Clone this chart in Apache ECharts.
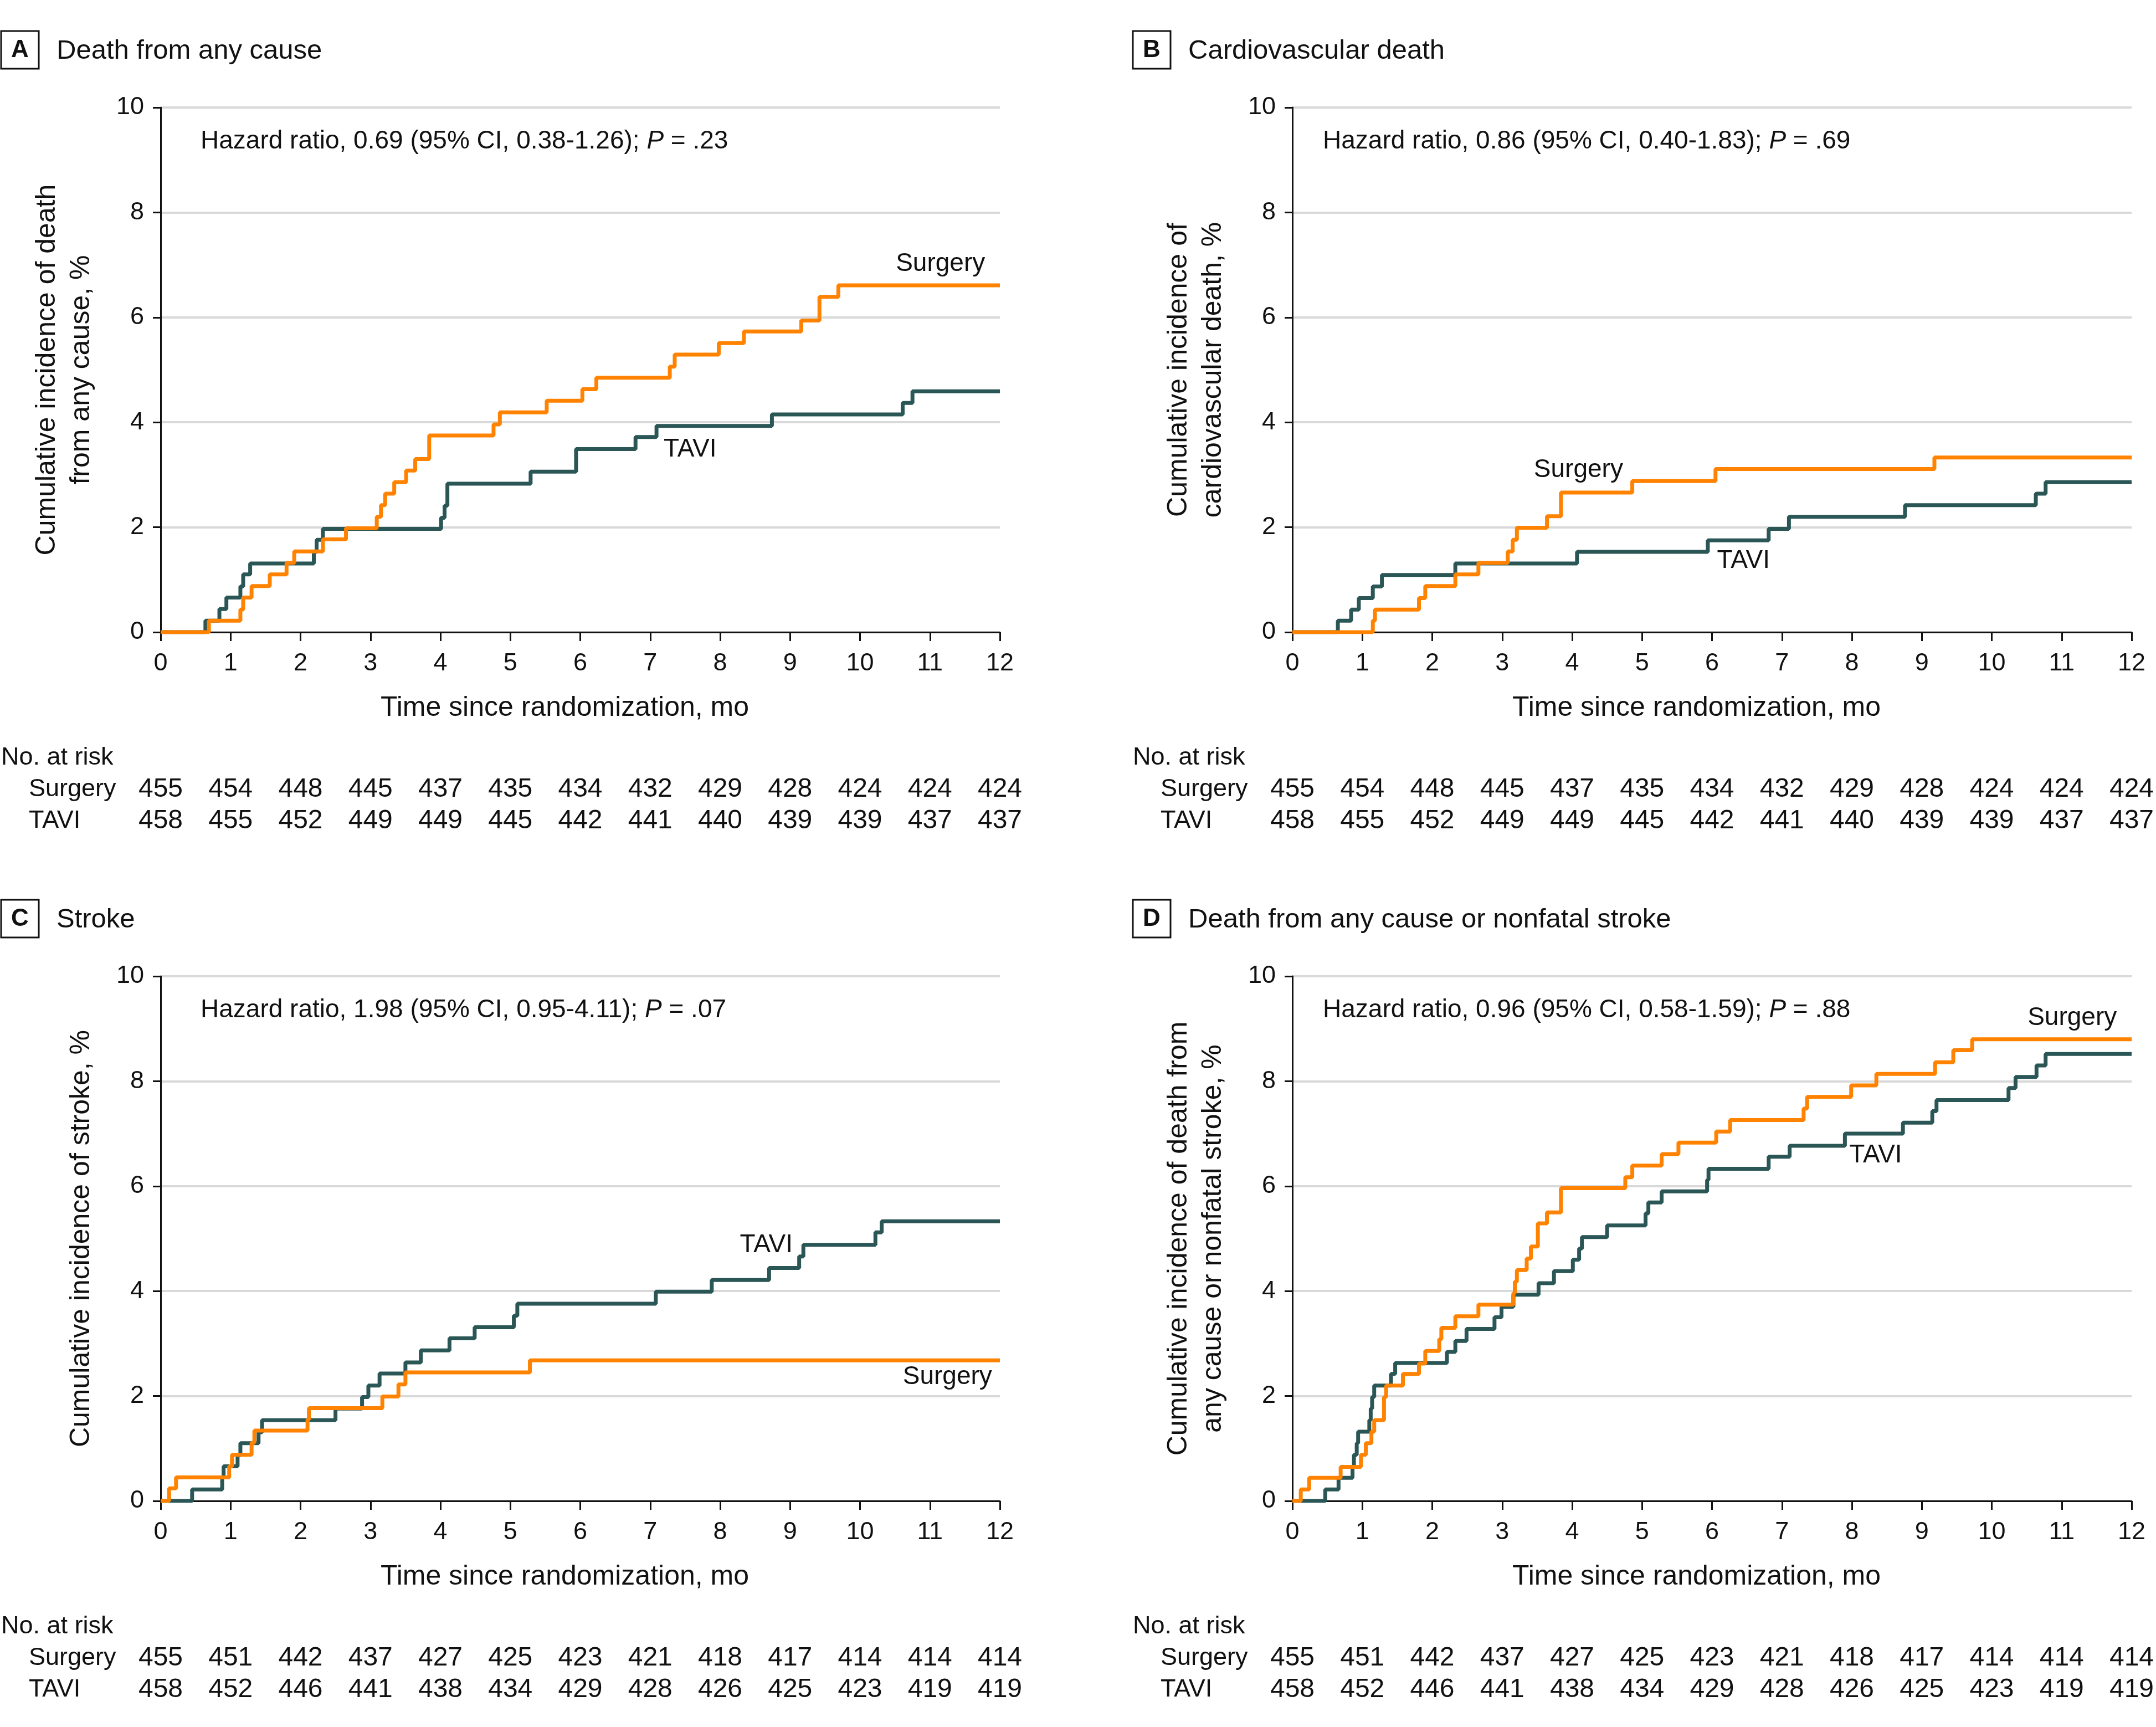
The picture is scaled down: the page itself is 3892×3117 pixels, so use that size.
<!DOCTYPE html>
<html>
<head>
<meta charset="utf-8">
<script src="https://cdn.jsdelivr.net/npm/echarts@6/dist/echarts.min.js"></script>
<style>
html, body { margin: 0; padding: 0; background: #fff; }
#main { width: 3892px; height: 3117px; }
</style>
</head>
<body>
<div id="main"></div>
<script>
// months since randomization / cumulative incidence (%)
const aSurgT = [0, 0.69, 1.14, 1.18, 1.30, 1.56, 1.80, 1.91, 2.32, 2.65, 3.09, 3.15, 3.21, 3.34, 3.51, 3.64, 3.84, 4.76, 4.85, 5.52, 6.03, 6.23, 7.28, 7.35, 7.98, 8.34, 9.16, 9.42, 9.69, 12]
const aSurgV = [0, 0.22, 0.43, 0.66, 0.88, 1.10, 1.32, 1.54, 1.77, 1.98, 2.20, 2.42, 2.64, 2.86, 3.08, 3.30, 3.75, 3.96, 4.19, 4.41, 4.63, 4.85, 5.06, 5.29, 5.51, 5.73, 5.94, 6.39, 6.61, 6.61]
const aTaviT = [0, 0.64, 0.84, 0.94, 1.14, 1.18, 1.28, 2.19, 2.23, 2.32, 4.01, 4.06, 4.10, 5.29, 5.94, 6.79, 7.09, 8.74, 10.61, 10.75, 12]
const aTaviV = [0, 0.22, 0.44, 0.66, 0.87, 1.10, 1.31, 1.53, 1.76, 1.97, 2.18, 2.41, 2.83, 3.06, 3.49, 3.72, 3.93, 4.15, 4.37, 4.59, 4.59]

const bSurgT = [0, 1.15, 1.18, 1.81, 1.90, 2.33, 2.66, 3.08, 3.15, 3.21, 3.64, 3.84, 4.86, 6.05, 9.18, 12]
const bSurgV = [0, 0.22, 0.43, 0.65, 0.88, 1.10, 1.32, 1.54, 1.76, 1.99, 2.21, 2.66, 2.88, 3.11, 3.33, 3.33]
const bTaviT = [0, 0.65, 0.84, 0.95, 1.15, 1.28, 2.33, 4.07, 5.94, 6.81, 7.10, 8.76, 10.63, 10.77, 12]
const bTaviV = [0, 0.22, 0.43, 0.65, 0.87, 1.09, 1.31, 1.53, 1.75, 1.97, 2.20, 2.42, 2.64, 2.86, 2.86]

const cSurgT = [0, 0.12, 0.22, 0.98, 1.02, 1.30, 1.34, 2.10, 2.12, 3.17, 3.40, 3.50, 5.28, 12]
const cSurgV = [0, 0.24, 0.45, 0.66, 0.88, 1.11, 1.34, 1.55, 1.77, 1.99, 2.22, 2.45, 2.68, 2.68]
const cTaviT = [0, 0.45, 0.88, 0.90, 1.10, 1.14, 1.40, 1.45, 2.50, 2.88, 2.97, 3.13, 3.50, 3.72, 4.13, 4.49, 5.05, 5.10, 7.08, 7.88, 8.70, 9.13, 9.19, 10.22, 10.31, 12]
const cTaviV = [0, 0.22, 0.44, 0.66, 0.87, 1.10, 1.31, 1.54, 1.76, 1.98, 2.20, 2.43, 2.64, 2.87, 3.10, 3.31, 3.53, 3.76, 3.99, 4.21, 4.44, 4.66, 4.88, 5.12, 5.33, 5.33]

const dSurgT = [0, 0.12, 0.24, 0.69, 0.98, 1.05, 1.13, 1.17, 1.31, 1.34, 1.58, 1.81, 1.90, 2.10, 2.13, 2.33, 2.66, 3.16, 3.18, 3.21, 3.35, 3.41, 3.51, 3.64, 3.84, 4.76, 4.86, 5.28, 5.52, 6.06, 6.26, 7.31, 7.36, 7.99, 8.35, 9.19, 9.45, 9.72, 12]
const dSurgV = [0, 0.22, 0.44, 0.65, 0.88, 1.10, 1.32, 1.54, 1.98, 2.20, 2.42, 2.62, 2.86, 3.08, 3.30, 3.52, 3.74, 3.96, 4.18, 4.40, 4.62, 4.85, 5.29, 5.50, 5.96, 6.17, 6.39, 6.61, 6.83, 7.04, 7.26, 7.48, 7.70, 7.92, 8.14, 8.36, 8.59, 8.80, 8.80]
const dTaviT = [0, 0.47, 0.66, 0.86, 0.88, 0.92, 0.94, 1.10, 1.12, 1.14, 1.17, 1.41, 1.47, 2.21, 2.33, 2.49, 2.89, 2.99, 3.16, 3.52, 3.74, 4.01, 4.10, 4.14, 4.50, 5.05, 5.09, 5.28, 5.93, 5.95, 6.81, 7.11, 7.90, 8.73, 9.15, 9.21, 10.24, 10.34, 10.64, 10.77, 12]
const dTaviV = [0, 0.22, 0.44, 0.66, 0.88, 1.10, 1.32, 1.54, 1.76, 1.98, 2.20, 2.42, 2.63, 2.84, 3.05, 3.28, 3.50, 3.70, 3.93, 4.15, 4.38, 4.60, 4.81, 5.03, 5.25, 5.48, 5.69, 5.90, 6.12, 6.33, 6.56, 6.77, 7.00, 7.21, 7.43, 7.64, 7.87, 8.08, 8.30, 8.52, 8.52]

// no. at risk at months 0..12
const riskMonths = [0, 1, 2, 3, 4, 5, 6, 7, 8, 9, 10, 11, 12]
const riskSurgAB = [455, 454, 448, 445, 437, 435, 434, 432, 429, 428, 424, 424, 424]
const riskTaviAB = [458, 455, 452, 449, 449, 445, 442, 441, 440, 439, 439, 437, 437]
const riskSurgCD = [455, 451, 442, 437, 427, 425, 423, 421, 418, 417, 414, 414, 414]
const riskTaviCD = [458, 452, 446, 441, 438, 434, 429, 428, 426, 425, 423, 419, 419]

const panelLetters = ['A', 'B', 'C', 'D']
const panelTitles = ['Death from any cause', 'Cardiovascular death', 'Stroke', 'Death from any cause or nonfatal stroke']
const yNames = [
  'Cumulative incidence of death\nfrom any cause, %',
  'Cumulative incidence of\ncardiovascular death, %',
  'Cumulative incidence of stroke, %',
  'Cumulative incidence of death from\nany cause or nonfatal stroke, %'
]
const hrPre = [
  'Hazard ratio, 0.69 (95% CI, 0.38-1.26); ',
  'Hazard ratio, 0.86 (95% CI, 0.40-1.83); ',
  'Hazard ratio, 1.98 (95% CI, 0.95-4.11); ',
  'Hazard ratio, 0.96 (95% CI, 0.58-1.59); '
]
const hrP = [' = .23', ' = .69', ' = .07', ' = .88']
// where the curve names sit (month, %)
const surgLabelAt = [[11.15, 7.02], [4.09, 3.09], [11.25, 2.36], [11.15, 9.21]]
const taviLabelAt = [[7.57, 3.48], [6.45, 1.36], [8.66, 4.88], [8.34, 6.59]]

const FONT = "'Liberation Sans', Arial, sans-serif"
const ORANGE = '#ff8200'
const TEAL = '#2b5656'

const zip = (t, v) => t.map((x, i) => [x, v[i]])
const surgData = [zip(aSurgT, aSurgV), zip(bSurgT, bSurgV), zip(cSurgT, cSurgV), zip(dSurgT, dSurgV)]
const taviData = [zip(aTaviT, aTaviV), zip(bTaviT, bTaviV), zip(cTaviT, cTaviV), zip(dTaviT, dTaviV)]
const riskSurg = [riskSurgAB, riskSurgAB, riskSurgCD, riskSurgCD]
const riskTavi = [riskTaviAB, riskTaviAB, riskTaviCD, riskTaviCD]

const gridLeft = [290, 2333, 290, 2333]
const gridTop = [194, 194, 1762, 1762]
const gridW = 1515
const gridH = 947
const hrOffset = [72, 55, 72, 55]

const chart = echarts.init(document.getElementById('main'))

const grid = [], xAxis = [], yAxis = [], series = []
for (let i = 0; i < 4; i++) {
  grid.push({ left: gridLeft[i], top: gridTop[i], width: gridW, height: gridH })
  xAxis.push({
    type: 'value', gridIndex: i, min: 0, max: 12, interval: 1,
    name: 'Time since randomization, mo', nameLocation: 'middle', nameGap: 112,
    nameTextStyle: { fontSize: 50, color: '#111', fontFamily: FONT, padding: [0, 56, 0, 0] },
    axisLine: { lineStyle: { color: '#111', width: 3 } },
    axisTick: { length: 16, lineStyle: { color: '#111', width: 3 } },
    axisLabel: { fontSize: 45, color: '#111', margin: 34, fontFamily: FONT },
    splitLine: { show: false }
  })
  yAxis.push({
    type: 'value', gridIndex: i, min: 0, max: 10, interval: 2,
    name: yNames[i], nameLocation: 'middle', nameRotate: 90, nameGap: 112,
    nameTextStyle: { fontSize: 50, color: '#111', fontFamily: FONT, lineHeight: 62 },
    axisLine: { show: true, lineStyle: { color: '#111', width: 3 } },
    axisTick: { show: true, length: 14, lineStyle: { color: '#111', width: 3 } },
    axisLabel: { fontSize: 45, color: '#111', margin: 30, fontFamily: FONT },
    splitLine: { show: true, lineStyle: { color: '#d9d9d9', width: 4 } }
  })
  series.push({
    name: 'TAVI', type: 'line', step: 'end', xAxisIndex: i, yAxisIndex: i,
    data: taviData[i], symbol: 'none', lineStyle: { color: TEAL, width: 7 }, z: 3
  })
  series.push({
    name: 'Surgery', type: 'line', step: 'end', xAxisIndex: i, yAxisIndex: i,
    data: surgData[i], symbol: 'none', lineStyle: { color: ORANGE, width: 7 }, z: 4
  })
}

chart.setOption({ animation: false, backgroundColor: '#fff', grid, xAxis, yAxis, series })

// texts that hang off the axes: panel heads, hazard ratios, curve names, risk tables
const txt = (x, y, text, size, align, extra) => ({
  type: 'text', x, y, z: 10,
  style: Object.assign({ text, fontSize: size, fontFamily: FONT, fill: '#111', align: align, verticalAlign: 'middle' }, extra || {})
})
const graphic = []
for (let i = 0; i < 4; i++) {
  const ox = gridLeft[i] - 290
  const oy = gridTop[i] - 194
  const px = (m, v) => chart.convertToPixel({ xAxisIndex: i, yAxisIndex: i }, [m, v])
  graphic.push({ type: 'rect', shape: { x: ox + 2, y: oy + 56, width: 68, height: 68 }, style: { fill: '#fff', stroke: '#111', lineWidth: 3 } })
  graphic.push(txt(ox + 36, oy + 91, panelLetters[i], 44, 'center', { fontWeight: 'bold' }))
  graphic.push(txt(ox + 102, oy + 92, panelTitles[i], 49, 'left'))
  graphic.push(txt(gridLeft[i] + hrOffset[i], gridTop[i] + 61, '{n|' + hrPre[i] + '}{p|P}{n|' + hrP[i] + '}', 46, 'left', {
    rich: { n: { fontSize: 46, fontFamily: FONT, fill: '#111' }, p: { fontSize: 46, fontFamily: FONT, fontStyle: 'italic', fill: '#111' } }
  }))
  const s = px(surgLabelAt[i][0], surgLabelAt[i][1])
  graphic.push(txt(s[0], s[1], 'Surgery', 46, 'center'))
  const t = px(taviLabelAt[i][0], taviLabelAt[i][1])
  graphic.push(txt(t[0], t[1], 'TAVI', 46, 'center'))
  graphic.push(txt(ox + 2, oy + 1368, 'No. at risk', 45, 'left'))
  graphic.push(txt(ox + 52, oy + 1425, 'Surgery', 45, 'left'))
  graphic.push(txt(ox + 52, oy + 1482, 'TAVI', 45, 'left'))
  riskMonths.forEach((m, k) => {
    const x = px(m, 0)[0]
    graphic.push(txt(x, oy + 1425, String(riskSurg[i][k]), 48, 'center'))
    graphic.push(txt(x, oy + 1482, String(riskTavi[i][k]), 48, 'center'))
  })
}
chart.setOption({ graphic })
</script>
</body>
</html>
